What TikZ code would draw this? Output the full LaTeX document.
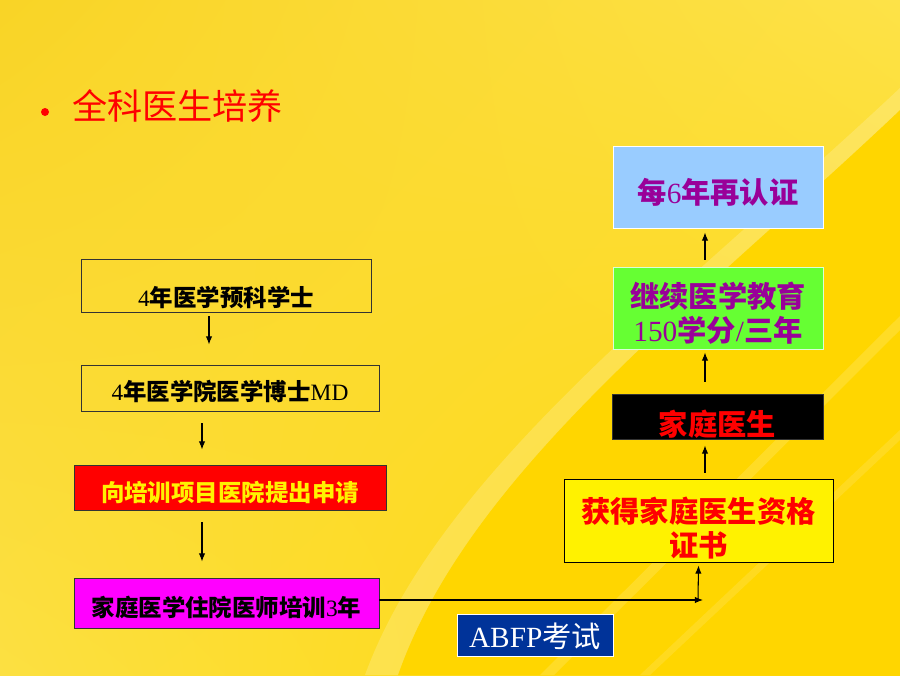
\documentclass[tikz,border=0pt]{standalone}
\usepackage{fontspec}
\setmainfont{Liberation Serif}
\newfontfamily\cjk{Noto Sans CJK SC}
\usetikzlibrary{calc,shadings,arrows.meta}
\definecolor{bgTL}{RGB}{249,212,38}
\definecolor{bgTR}{RGB}{253,226,72}
\definecolor{bgBL}{RGB}{252,224,66}
\definecolor{bgBR}{RGB}{255,214,0}
\definecolor{bgGold}{RGB}{255,214,0}
\definecolor{pinkbox}{RGB}{255,0,255}
\definecolor{greenbox}{RGB}{102,255,51}
\definecolor{bluebox}{RGB}{153,204,255}
\definecolor{navybox}{RGB}{0,51,153}
\definecolor{purpletext}{RGB}{153,0,153}
\newcommand{\zh}[1]{{\cjk\bfseries #1}}
\tikzset{
  plainbox/.style={draw=black!80,line width=0.8pt,inner sep=0pt,align=center,
    font=\fontsize{20}{24}\selectfont},
  bigbox/.style={plainbox,font=\fontsize{25}{29}\selectfont},
  flow/.style={->,line width=0.9pt},
}

\begin{document}
\begin{tikzpicture}[x=0.03cm,y=-0.03cm,>={Latex[length=7pt,width=5.5pt]}]
  % background
  \useasboundingbox (0,0) rectangle (900,675);
  \shade[upper left=bgTL,upper right=bgTR,lower left=bgBL,lower right=bgBR] (0,0) rectangle (900,675);
  \fill[bgGold] (398,675) .. controls (470,470) and (700,300) .. (900,110) -- (900,675) -- cycle;
  \fill[white,opacity=0.18] (365,675) .. controls (440,470) and (685,290) .. (900,88)
    -- (900,110) .. controls (700,300) and (470,470) .. (398,675) -- cycle;
  \fill[white,opacity=0.15] (540,675) -- (554,675) -- (900,330) -- (900,316) -- cycle;
  \fill[white,opacity=0.12] (640,675) -- (650,675) -- (900,440) -- (900,430) -- cycle;
  % title
  \fill[red] (45,112) circle(0.12cm);
  \node[anchor=west,text=red,font=\cjk\fontsize{30}{36}\selectfont] (title) at (68,106) {全科医生培养};
  % left column
  \node[plainbox,text height=35pt,text depth=0pt,minimum width=8.7cm,minimum height=1.59cm] (b1) at (226,285.5) {4\zh{年医学预科学士}};
  \node[plainbox,text height=22pt,text depth=0pt,minimum width=8.94cm,minimum height=1.38cm] (b2) at (230,388) {4\zh{年医学院医学博士}MD};
  \node[plainbox,text height=24.6pt,text depth=0pt,fill=red,text=yellow,minimum width=9.36cm,minimum height=1.35cm] (b3) at (230,487.5) {\zh{向培训项目医院提出申请}};
  \node[plainbox,text height=23.7pt,text depth=0pt,fill=pinkbox,minimum width=9.15cm,minimum height=1.5cm] (b4) at (226.5,603) {\zh{家庭医学住院医师培训}3\zh{年}};
  % right column
  \node[bigbox,draw=black,fill=yellow,text=red,minimum width=8.07cm,minimum height=2.49cm] (b5) at (698.5,520.5) {\rule{0pt}{34pt}\zh{获得家庭医生资格}\\\zh{证书}};
  \node[bigbox,text height=32pt,text depth=0pt,fill=black,text=red,minimum width=6.33cm,minimum height=1.35cm] (b6) at (717.5,416.5) {\zh{家庭医生}};
  \node[bigbox,draw=white!85!green,fill=greenbox,text=purpletext,minimum width=6.3cm,minimum height=2.46cm] (b7) at (718,308) {\rule{0pt}{30.5pt}\zh{继续医学教育}\\150\zh{学分}/\zh{三年}};
  \node[bigbox,text height=27.5pt,text depth=0pt,draw=white,fill=bluebox,text=purpletext,minimum width=6.3cm,minimum height=2.46cm] (b8) at (718,187) {\zh{每}6\zh{年再认证}};
  \node[bigbox,text height=21.5pt,text depth=0pt,draw=white,fill=navybox,text=white,line width=0.6pt,minimum width=4.68cm,minimum height=1.26cm] (exam) at (535,635) {ABFP{\cjk 考试}};
  % arrows
  \coordinate (turn) at (703,600);
  \draw[flow] ($(b1.south)+(-17,4)$) -- ($(b2.north)+(-21,-20)$);
  \draw[flow] ($(b2.south)+(-28,12)$) -- ($(b3.north)+(-28,-15)$);
  \draw[flow] ($(b3.south)+(-28,12)$) -- ($(b4.north)+(-24.5,-16)$);
  \draw[flow] (b4.east |- turn) -- (turn);
  \draw[flow] ($(turn)+(-5,0)$) -- ($(b5.south)+(0,3)$);
  \draw[flow] ($(b5.north)+(6.5,-6)$) -- ($(b6.south)+(-12.5,6)$);
  \draw[flow] ($(b6.north)+(-12.5,-12)$) -- ($(b7.south)+(-13,3)$);
  \draw[flow] ($(b7.north)+(-13,-7)$) -- ($(b8.south)+(-13,4)$);
\end{tikzpicture}
\end{document}
